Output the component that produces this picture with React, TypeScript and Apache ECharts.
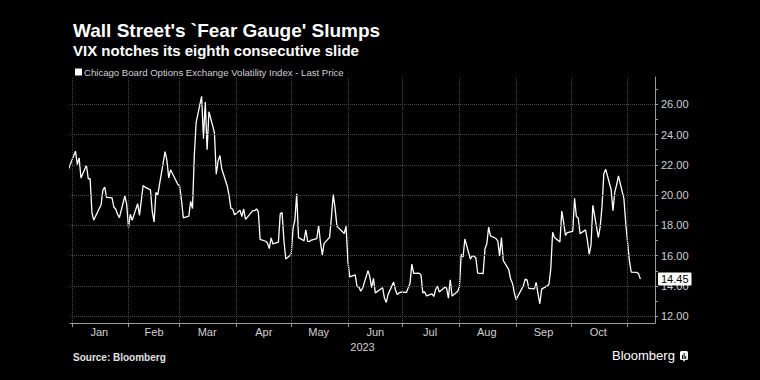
import React, { useEffect, useRef } from "react";
import * as echarts from "echarts";

const seriesName = "Chicago Board Options Exchange Volatility Index - Last Price";

const tradeDates: string[] = [
  "2022-12-30",
  "2023-01-03","2023-01-04","2023-01-05","2023-01-06","2023-01-09","2023-01-10","2023-01-11","2023-01-12","2023-01-13",
  "2023-01-17","2023-01-18","2023-01-19","2023-01-20","2023-01-23","2023-01-24","2023-01-25","2023-01-26","2023-01-27",
  "2023-01-30","2023-01-31",
  "2023-02-01","2023-02-02","2023-02-03","2023-02-06","2023-02-07","2023-02-08","2023-02-09","2023-02-10","2023-02-13",
  "2023-02-14","2023-02-15","2023-02-16","2023-02-17","2023-02-21","2023-02-22","2023-02-23","2023-02-24","2023-02-27","2023-02-28",
  "2023-03-01","2023-03-02","2023-03-03","2023-03-06","2023-03-07","2023-03-08","2023-03-09","2023-03-10","2023-03-13",
  "2023-03-14","2023-03-15","2023-03-16","2023-03-17","2023-03-20","2023-03-21","2023-03-22","2023-03-23","2023-03-24",
  "2023-03-27","2023-03-28","2023-03-29","2023-03-30","2023-03-31",
  "2023-04-03","2023-04-04","2023-04-05","2023-04-06","2023-04-10","2023-04-11","2023-04-12","2023-04-13","2023-04-14",
  "2023-04-17","2023-04-18","2023-04-19","2023-04-20","2023-04-21","2023-04-24","2023-04-25","2023-04-26","2023-04-27","2023-04-28",
  "2023-05-01","2023-05-02","2023-05-03","2023-05-04","2023-05-05","2023-05-08","2023-05-09","2023-05-10","2023-05-11","2023-05-12",
  "2023-05-15","2023-05-16","2023-05-17","2023-05-18","2023-05-19","2023-05-22","2023-05-23","2023-05-24","2023-05-25","2023-05-26",
  "2023-05-30","2023-05-31",
  "2023-06-01","2023-06-02","2023-06-05","2023-06-06","2023-06-07","2023-06-08","2023-06-09","2023-06-12","2023-06-13","2023-06-14",
  "2023-06-15","2023-06-16","2023-06-20","2023-06-21","2023-06-22","2023-06-23","2023-06-26","2023-06-27","2023-06-28","2023-06-29","2023-06-30",
  "2023-07-03","2023-07-05","2023-07-06","2023-07-07","2023-07-10","2023-07-11","2023-07-12","2023-07-13","2023-07-14",
  "2023-07-17","2023-07-18","2023-07-19","2023-07-20","2023-07-21","2023-07-24","2023-07-25","2023-07-26","2023-07-27","2023-07-28","2023-07-31",
  "2023-08-01","2023-08-02","2023-08-03","2023-08-04","2023-08-07","2023-08-08","2023-08-09","2023-08-10","2023-08-11",
  "2023-08-14","2023-08-15","2023-08-16","2023-08-17","2023-08-18","2023-08-21","2023-08-22","2023-08-23","2023-08-24","2023-08-25",
  "2023-08-28","2023-08-29","2023-08-30","2023-08-31",
  "2023-09-01","2023-09-05","2023-09-06","2023-09-07","2023-09-08","2023-09-11","2023-09-12","2023-09-13","2023-09-14","2023-09-15",
  "2023-09-18","2023-09-19","2023-09-20","2023-09-21","2023-09-22","2023-09-25","2023-09-26","2023-09-27","2023-09-28","2023-09-29",
  "2023-10-02","2023-10-03","2023-10-04","2023-10-05","2023-10-06","2023-10-09","2023-10-10","2023-10-11","2023-10-12","2023-10-13",
  "2023-10-16","2023-10-17","2023-10-18","2023-10-19","2023-10-20","2023-10-23","2023-10-24","2023-10-25","2023-10-26","2023-10-27",
  "2023-10-30","2023-10-31",
  "2023-11-01","2023-11-02","2023-11-03","2023-11-06","2023-11-07","2023-11-08",
];

const vixClose: number[] = [
  21.67,
  22.90, 22.01, 22.46, 21.13, 21.97, 21.07, 21.09, 18.83, 18.35,
  19.36, 20.34, 20.52, 19.85, 19.81, 19.20, 19.08, 18.73, 18.51,
  19.94, 19.40,
  17.87, 18.73, 18.33, 19.43, 18.66, 19.63, 20.63, 20.53, 20.34,
  18.91, 18.23, 20.17, 20.02, 22.87, 22.29, 21.14, 21.67, 20.95, 20.70,
  20.58, 19.63, 18.49, 18.61, 19.59, 19.11, 22.61, 24.80, 26.52,
  23.73, 26.14, 22.99, 25.51, 24.12, 21.38, 22.26, 22.61, 21.74,
  20.60, 19.97, 19.12, 19.08, 18.70,
  19.00, 18.58, 19.08, 18.40, 18.97, 18.97, 19.09, 18.91, 17.07,
  16.95, 16.83, 16.46, 17.17, 16.77, 16.89, 18.76, 18.84, 17.03, 15.78,
  16.08, 17.78, 18.34, 20.09, 17.19, 16.98, 17.71, 16.94, 16.93, 17.03,
  17.12, 17.99, 16.87, 16.05, 16.81, 17.21, 18.53, 20.03, 19.14, 17.95,
  17.46, 17.94,
  15.65, 14.60, 14.73, 13.96, 13.94, 13.65, 13.83, 15.01, 14.61, 13.88,
  14.50, 13.54, 13.88, 13.20, 12.91, 13.44, 14.25, 13.74, 13.43, 13.54, 13.59,
  13.57, 14.18, 15.44, 14.83, 14.84, 14.73, 13.54, 13.61, 13.34,
  13.48, 13.30, 13.76, 13.99, 13.60, 13.91, 13.86, 13.19, 14.41, 13.33, 13.63,
  13.93, 16.09, 15.92, 17.10, 15.77, 15.99, 15.96, 15.85, 14.84,
  14.82, 16.46, 16.78, 17.89, 17.30, 17.13, 16.97, 15.98, 17.20, 15.68,
  15.08, 14.45, 14.18, 13.57,
  13.09, 14.02, 14.45, 14.40, 13.84, 13.80, 14.23, 13.48, 12.82, 13.79,
  14.00, 14.11, 15.14, 17.54, 17.20, 16.90, 18.94, 18.22, 17.34, 17.52,
  17.61, 19.78, 18.58, 18.49, 17.45, 17.70, 17.03, 16.09, 16.69, 19.32,
  17.21, 17.88, 19.22, 21.40, 21.71, 20.37, 18.97, 20.19, 20.68, 21.27,
  19.75, 18.14,
  16.87, 15.66, 14.91, 14.89, 14.81, 14.45,
];

const monthNames = ["Jan", "Feb", "Mar", "Apr", "May", "Jun", "Jul", "Aug", "Sep", "Oct", "Nov", "Dec"];
const monthStarts: string[] = [
  "2023-01-01", "2023-02-01", "2023-03-01", "2023-04-01", "2023-05-01", "2023-06-01",
  "2023-07-01", "2023-08-01", "2023-09-01", "2023-10-01", "2023-11-01",
];
const monthMids: string[] = [
  "2023-01-16", "2023-02-15", "2023-03-16", "2023-04-16", "2023-05-16", "2023-06-16",
  "2023-07-16", "2023-08-16", "2023-09-16", "2023-10-16",
];
const yMajor: number[] = [12, 14, 16, 18, 20, 22, 24, 26];
const yMinor: number[] = [12, 13, 14, 15, 16, 17, 18, 19, 20, 21, 22, 23, 24, 25, 26, 27];
const lastValue = vixClose[vixClose.length - 1];

const ts = (s: string) => {
  const [y, m, d] = s.split("-").map(Number);
  return new Date(y, m - 1, d).getTime();
};

const FONT = "Liberation Sans";

export default function App() {
  const ref = useRef<HTMLDivElement>(null);
  useEffect(() => {
    if (!ref.current) return;
    const chart = echarts.init(ref.current, null, { renderer: "svg" });
    const data = tradeDates.map((d, i) => [ts(d), vixClose[i]]);
    const gridStyle = { color: "#4a4a4a", type: "dotted" as const, width: 1 };
    chart.setOption({
      animation: false,
      backgroundColor: "#000",
      textStyle: { fontFamily: FONT },
      title: [
        {
          text: "Wall Street's `Fear Gauge' Slumps",
          left: 68,
          top: 16,
          textStyle: { color: "#fff", fontSize: 19, fontWeight: "bold", fontFamily: FONT },
        },
        {
          text: "VIX notches its eighth consecutive slide",
          left: 68,
          top: 38,
          textStyle: { color: "#fff", fontSize: 15, fontWeight: "bold", fontFamily: FONT },
        },
      ],
      legend: {
        left: 70,
        top: 62,
        icon: "rect",
        itemWidth: 7,
        itemHeight: 7,
        itemGap: 4,
        data: [seriesName],
        textStyle: { color: "#d0d0d0", fontSize: 9.6, fontFamily: FONT, padding: [0, 0, 0, -3] },
        selectedMode: false,
      },
      grid: { left: 70, right: 105, top: 77, bottom: 57, containLabel: false },
      xAxis: {
        type: "value",
        min: ts("2022-12-31"),
        max: ts("2023-11-16"),
        axisLine: { show: true, lineStyle: { color: "#9a9a9a", width: 1 } },
        axisTick: {
          show: true,
          customValues: monthStarts.map(ts),
          length: 4,
          lineStyle: { color: "#9a9a9a" },
        },
        axisLabel: {
          customValues: monthMids.map(ts),
          formatter: (v: number) => monthNames[new Date(v).getMonth()],
          color: "#d0d0d0",
          fontSize: 11,
          margin: 3,
          fontFamily: FONT,
        },
        splitLine: { show: false },
        name: "2023",
        nameLocation: "middle",
        nameGap: 17,
        nameTextStyle: { color: "#d0d0d0", fontSize: 11, fontFamily: FONT },
      },
      yAxis: {
        type: "value",
        position: "right",
        min: 11.55,
        max: 27.8,
        axisLine: { show: true, lineStyle: { color: "#9a9a9a", width: 1 } },
        axisTick: {
          show: true,
          customValues: yMinor,
          length: 3,
          lineStyle: { color: "#9a9a9a" },
        },
        axisLabel: {
          customValues: yMajor,
          formatter: (v: number) => v.toFixed(2),
          color: "#d0d0d0",
          fontSize: 11,
          margin: 6,
          fontFamily: FONT,
        },
        splitLine: { show: false },
      },
      series: [
        {
          name: "grid",
          type: "line",
          data: data,
          z: 1,
          silent: true,
          symbol: "none",
          lineStyle: { opacity: 0 },
          markLine: {
            silent: true,
            symbol: "none",
            label: { show: false },
            lineStyle: gridStyle,
            data: [
              ...yMajor.map((v) => ({ yAxis: v })),
              ...monthStarts.map((d) => ({ xAxis: ts(d) })),
            ],
          },
        },
        {
          name: seriesName,
          type: "line",
          data: data,
          z: 3,
          symbol: "none",
          color: "#ffffff",
          lineStyle: { color: "#ffffff", width: 1.3 },
          markLine: {
            silent: true,
            symbol: "none",
            lineStyle: { color: "rgba(0,0,0,0)", width: 0 },
            label: {
              show: true,
              position: "end",
              formatter: (p: any) => Number(p.value).toFixed(2),
              backgroundColor: "#ffffff",
              color: "#000000",
              opacity: 1,
              fontSize: 11,
              fontFamily: FONT,
              padding: [1, 3, 1, 3],
              borderRadius: 1,
              distance: 3,
            },
            data: [{ yAxis: lastValue }],
          },
        },
      ],
      graphic: [
        {
          type: "text",
          left: 73,
          top: 352,
          style: { text: "Source: Bloomberg", fill: "#e0e0e0", font: `bold 10px ${FONT}` },
        },
        {
          type: "text",
          left: 612,
          top: 349,
          style: { text: "Bloomberg", fill: "#fff", font: `13px ${FONT}` },
        },
        {
          type: "group",
          left: 680,
          top: 351,
          children: [
            { type: "rect", shape: { x: 0, y: 0, width: 8, height: 9, r: 1.5 }, style: { fill: "#fff" } },
            { type: "polygon", shape: { points: [[3, 9], [5, 9], [4, 11]] }, style: { fill: "#fff" } },
            { type: "rect", shape: { x: 2, y: 4, width: 1, height: 4 }, style: { fill: "#000" } },
            { type: "rect", shape: { x: 3.6, y: 2, width: 1, height: 6 }, style: { fill: "#000" } },
            { type: "rect", shape: { x: 5.2, y: 5, width: 1, height: 3 }, style: { fill: "#000" } },
          ],
        },
      ],
    });
    return () => chart.dispose();
  }, []);
  return <div ref={ref} style={{ width: 760, height: 380, position: "absolute", left: 0, top: 0 }} />;
}
